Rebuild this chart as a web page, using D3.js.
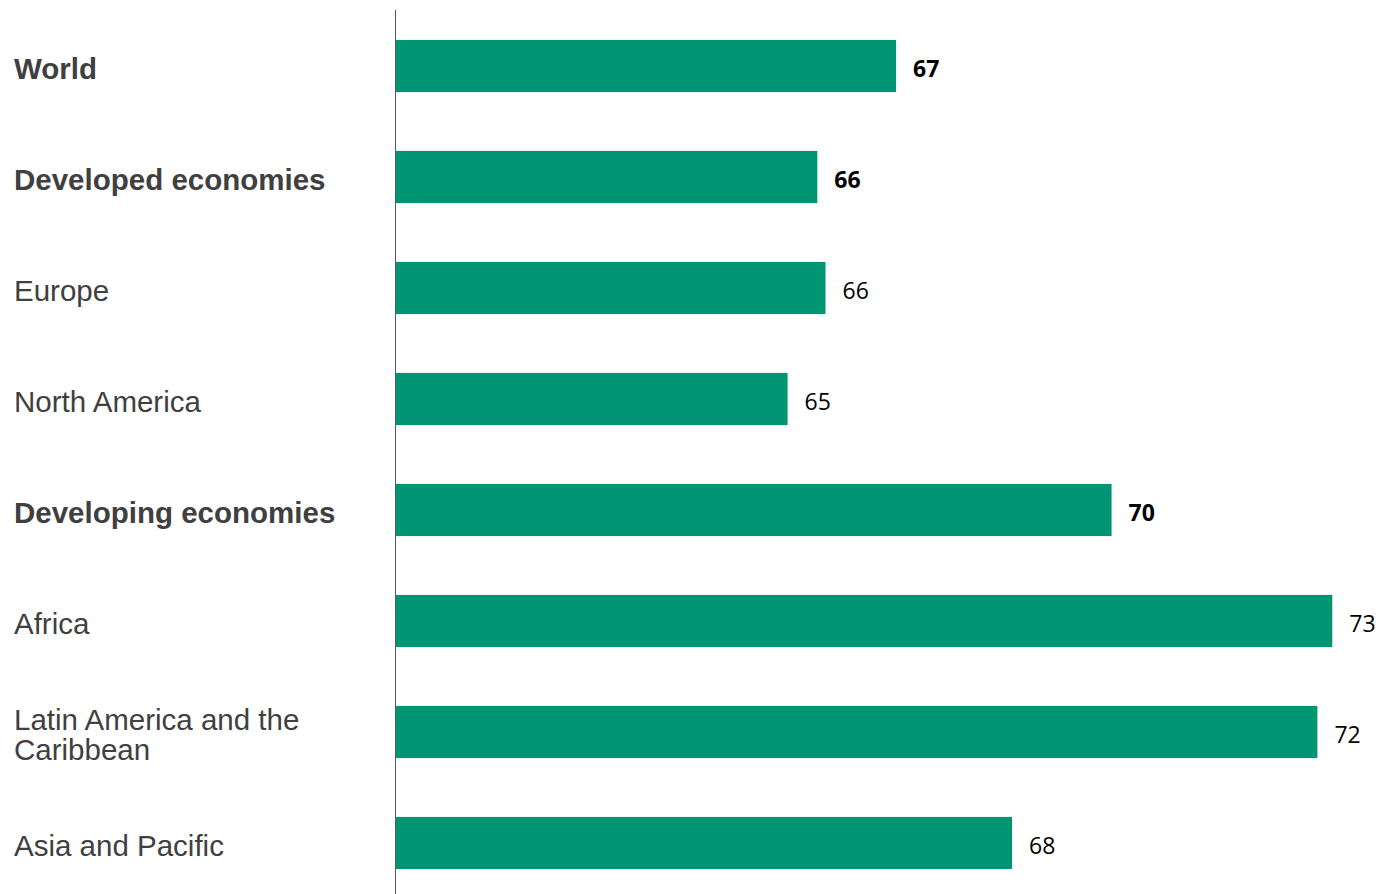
<!DOCTYPE html>
<html>
<head>
<meta charset="utf-8">
<script src="https://cdn.jsdelivr.net/npm/d3@7"></script>
<style>
  body { margin: 0; background: #fff; }
</style>
</head>
<body>
<svg id="chart" width="1379" height="894"></svg>
<script>
  // categories, top to bottom
  var regions = [
    "World",
    "Developed economies",
    "Europe",
    "North America",
    "Developing economies",
    "Africa",
    "Latin America and the\nCaribbean",
    "Asia and Pacific"
  ];
  // estimated unrounded values (labels show them rounded)
  var values = [66.73, 65.67, 65.78, 65.27, 69.63, 72.6, 72.4, 68.29];
  var boldRegions = ["World", "Developed economies", "Developing economies"];

  var data = regions.map(function (r, i) {
    return { name: r, value: values[i], bold: boldRegions.indexOf(r) >= 0 };
  });

  var svg = d3.select("#chart"),
    left = 396;

  var xScale = d3.scaleLinear().domain([60, 73]).range([left, left + 966]);
  var yScale = d3.scaleBand()
    .domain(regions)
    .range([10.5, 898.5])
    .paddingInner(0.53)
    .paddingOuter(0.265);

  var fmt = d3.format(".0f");

  // bars
  svg.append("g")
    .selectAll("rect")
    .data(data)
    .enter()
    .append("rect")
    .attr("x", xScale(60))
    .attr("y", function (d) { return yScale(d.name); })
    .attr("width", function (d) { return xScale(d.value) - xScale(60); })
    .attr("height", yScale.bandwidth())
    .style("fill", "#009673");

  // value labels
  svg.append("g")
    .selectAll("text")
    .data(data)
    .enter()
    .append("text")
    .attr("x", function (d) { return xScale(d.value) + 17; })
    .attr("y", function (d) { return yScale(d.name) + yScale.bandwidth() / 2 + 10.5; })
    .style("font-family", "'Open Sans', sans-serif")
    .style("font-size", "23px")
    .style("font-weight", function (d) { return d.bold ? "bold" : "normal"; })
    .style("fill", "#000")
    .text(function (d) { return fmt(d.value); });

  // category labels
  var labels = svg.append("g")
    .selectAll("text")
    .data(data)
    .enter()
    .append("text")
    .attr("x", 14)
    .style("font-family", "'Liberation Sans', Arial, sans-serif")
    .style("font-size", "29.5px")
    .style("font-weight", function (d) { return d.bold ? "bold" : "normal"; })
    .style("fill", "#404040");

  labels.each(function (d) {
    var lines = d.name.split("\n");
    var cy = yScale(d.name) + yScale.bandwidth() / 2;
    var first = cy + 12.5 - (lines.length - 1) * 14.5;
    d3.select(this)
      .selectAll("tspan")
      .data(lines)
      .enter()
      .append("tspan")
      .attr("x", 14)
      .attr("y", function (l, i) { return first + i * 29.5; })
      .text(function (l) { return l; });
  });

  // vertical axis line
  svg.append("line")
    .attr("x1", left - 0.5)
    .attr("x2", left - 0.5)
    .attr("y1", 10)
    .attr("y2", 894)
    .style("stroke", "#595959")
    .style("stroke-width", 1);
</script>
</body>
</html>
